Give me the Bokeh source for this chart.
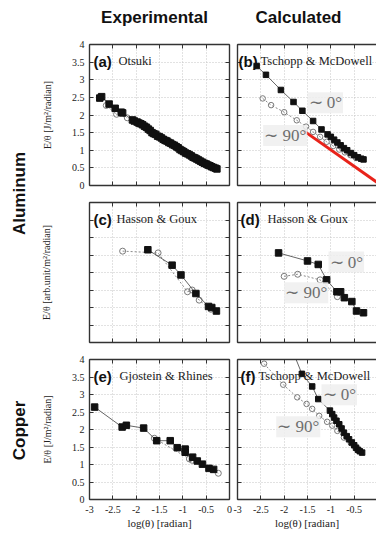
import math
from bokeh.plotting import figure
from bokeh.models import (Label, LinearAxis, FixedTicker, CustomJSTickFormatter,
                          Range1d, Grid)
from bokeh.layouts import row, column
from bokeh.embed import file_html
from bokeh.resources import INLINE

SERIF = "Liberation Serif"
SANS = "Liberation Sans"

XTICKS = [-3, -2.5, -2, -1.5, -1, -0.5, 0]
YTICKS = [0, 0.5, 1, 1.5, 2, 2.5, 3, 3.5, 4]

col_titles = ["Experimental", "Calculated"]
row_titles = ["Aluminum", "Copper"]

# (a) Otsuki - Aluminum experimental
a_sq_x = [-2.78, -2.74, -2.58, -2.45, -2.32, -2.29, -2.08, -2.04, -1.98, -1.94, -1.90,
          -1.86, -1.82, -1.78, -1.74, -1.70, -1.66, -1.62, -1.58, -1.54, -1.50, -1.46,
          -1.42, -1.38, -1.34, -1.30, -1.26, -1.22, -1.18, -1.14, -1.10, -1.06, -1.02,
          -0.98, -0.94, -0.90, -0.86, -0.82, -0.78, -0.74, -0.70, -0.66, -0.62, -0.58,
          -0.54, -0.50, -0.46, -0.42, -0.38, -0.34, -0.30, -0.27]
a_sq_y = [2.48, 2.52, 2.31, 2.19, 2.08, 2.06, 1.86, 1.83, 1.80, 1.77, 1.75,
          1.72, 1.68, 1.65, 1.60, 1.56, 1.50, 1.47, 1.45, 1.40, 1.38, 1.35,
          1.31, 1.28, 1.26, 1.22, 1.20, 1.16, 1.14, 1.10, 1.07, 1.02, 0.99,
          0.96, 0.92, 0.90, 0.87, 0.84, 0.80, 0.78, 0.75, 0.72, 0.69, 0.66,
          0.63, 0.61, 0.58, 0.56, 0.53, 0.51, 0.49, 0.47]
a_ci_x = [-2.64, -2.42, -2.19]
a_ci_y = [2.27, 2.02, 1.92]

# (b) Tschopp & McDowell - Aluminum calculated
b_sq_x = [-2.59, -2.39, -2.07, -1.80, -1.61, -1.38, -1.20, -1.07, -1.00, -0.93, -0.86,
          -0.79, -0.72, -0.65, -0.57, -0.50, -0.42, -0.35, -0.30]
b_sq_y = [3.39, 3.14, 2.71, 2.37, 2.12, 1.83, 1.59, 1.45, 1.38, 1.30, 1.22,
          1.14, 1.06, 1.00, 0.92, 0.86, 0.80, 0.76, 0.74]
b_ci_x = [-2.46, -2.28, -2.00, -1.73, -1.53, -1.38, -1.23, -1.09, -0.95, -0.82, -0.70, -0.58, -0.46]
b_ci_y = [2.47, 2.28, 2.08, 1.85, 1.67, 1.52, 1.38, 1.24, 1.12, 1.02, 0.94, 0.86, 0.78]
b_red_x = [-1.58, 0.0]
b_red_y = [1.55, 0.08]

# (c) Hasson & Goux - Aluminum experimental (arb. units)
c_sq_x = [-1.75, -1.23, -1.04, -0.72, -0.45, -0.38, -0.28]
c_sq_y = [2.65, 2.21, 1.93, 1.40, 1.03, 1.00, 0.90]
c_ci_x = [-2.29, -1.53, -0.90, -0.80, -0.65, -0.40]
c_ci_y = [2.61, 2.56, 1.45, 1.50, 1.21, 0.95]

# (d) Hasson & Goux - Aluminum calculated
d_sq_x = [-2.12, -1.50, -1.27, -1.09, -0.87, -0.79, -0.71, -0.55, -0.45, -0.30]
d_sq_y = [2.56, 2.33, 2.23, 1.79, 1.45, 1.45, 1.28, 1.17, 0.90, 0.85]
d_ci_x = [-2.00, -1.71, -1.23, -0.86]
d_ci_y = [1.89, 1.95, 1.79, 1.31]

# (e) Gjostein & Rhines - Copper experimental
e_sq_x = [-2.89, -2.30, -2.21, -1.84, -1.56, -1.27, -1.12, -0.95, -0.95, -0.79, -0.69,
          -0.58, -0.44, -0.34]
e_sq_y = [2.64, 2.07, 2.12, 2.04, 1.68, 1.68, 1.48, 1.44, 1.35, 1.21, 1.10,
          1.01, 0.89, 0.86]
e_ci_x = [-1.61, -0.86, -0.80, -0.24]
e_ci_y = [1.75, 1.16, 1.12, 0.75]

# (f) Tschopp & McDowell - Copper calculated
f_sq_x = [-1.82, -1.62, -1.40, -1.27, -1.02, -0.97, -0.93, -0.88, -0.82, -0.77, -0.72,
          -0.66, -0.61, -0.55, -0.50, -0.46, -0.42, -0.38, -0.33]
f_sq_y = [4.25, 3.59, 3.23, 2.87, 2.54, 2.44, 2.34, 2.25, 2.15, 2.03, 1.91,
          1.81, 1.72, 1.63, 1.55, 1.48, 1.42, 1.38, 1.34]
f_ci_x = [-2.43, -2.02, -1.72, -1.52, -1.40, -1.25, -1.08, -0.97, -0.86, -0.72, -0.57, -0.43]
f_ci_y = [3.88, 3.28, 2.92, 2.73, 2.59, 2.39, 2.22, 2.11, 1.96, 1.77, 1.61, 1.44]

AXC = "#333333"


def mk_axis(ticks, show, size="10px", standoff=6):
    ax = LinearAxis(ticker=FixedTicker(ticks=ticks))
    ax.major_tick_in = 4
    ax.major_tick_out = 0
    ax.minor_tick_in = 0
    ax.minor_tick_out = 0
    ax.axis_line_color = AXC
    ax.axis_line_width = 1.4
    ax.major_tick_line_color = AXC
    ax.major_tick_line_width = 1
    if show:
        ax.formatter = CustomJSTickFormatter(code="return String(tick);")
        ax.major_label_text_font = SERIF
        ax.major_label_text_font_size = size
        ax.major_label_text_color = "#222222"
        ax.major_label_standoff = standoff
    else:
        ax.formatter = CustomJSTickFormatter(code="return '';")
        ax.major_label_text_font_size = "0px"
        ax.major_label_standoff = 0
    ax.axis_label_text_font = SERIF
    ax.axis_label_text_font_style = "normal"
    ax.axis_label_text_color = "#222222"
    return ax


def panel(width, height, bl, br, bt, bb, x_end, left_col, xlabels, ylabels,
          ylabel=None, ylabel_standoff=16):
    p = figure(width=width, height=height, x_range=Range1d(-3, x_end),
               y_range=Range1d(0, 4), x_axis_type=None, y_axis_type=None,
               output_backend="svg", toolbar_location=None,
               min_border_left=bl, min_border_right=br,
               min_border_top=bt, min_border_bottom=bb)
    p.outline_line_color = None
    p.add_layout(Grid(dimension=0, ticker=FixedTicker(ticks=XTICKS),
                      grid_line_color="#c4c4c4", grid_line_dash="1 2"))
    p.add_layout(Grid(dimension=1, ticker=FixedTicker(ticks=YTICKS),
                      grid_line_color="#c4c4c4", grid_line_dash="1 2"))
    xb = mk_axis(XTICKS, xlabels, "10px", 6)
    if xlabels:
        xb.axis_label = "log(θ) [radian]"
        xb.axis_label_text_font_size = "11px"
        xb.axis_label_standoff = 1
    p.add_layout(xb, "below")
    p.add_layout(mk_axis(XTICKS, False), "above")
    yl = mk_axis(YTICKS, ylabels, "10px", 5)
    if ylabel:
        yl.axis_label = ylabel
        yl.axis_label_text_font_size = "10px"
        yl.axis_label_standoff = ylabel_standoff
    p.add_layout(yl, "left")
    if left_col:
        p.add_layout(mk_axis(YTICKS, False), "right")
    return p


def draw(p, sx, sy, cx, cy, sq_size=6.5, ci_size=6):
    if cx:
        p.line(cx, cy, line_color="#8a8a8a", line_width=1, line_dash="2 2")
        p.scatter(cx, cy, marker="circle", size=ci_size, line_color="#7a7a7a",
                  fill_color=None, line_width=1)
    p.line(sx, sy, line_color="#555555", line_width=0.9)
    p.scatter(sx, sy, marker="square", size=sq_size, line_color="#111111",
              fill_color="#111111")


def tag(p, letter, name, dx_letter, dx_name):
    p.add_layout(Label(x=-3, y=4, x_offset=dx_letter, y_offset=-16.5, text=letter,
                       text_font=SANS, text_font_style="bold", text_font_size="15px",
                       text_color="#111111", text_baseline="alphabetic"))
    p.add_layout(Label(x=-3, y=4, x_offset=dx_name, y_offset=-16.5, text=name,
                       text_font=SERIF, text_font_size="12.5px",
                       text_color="#222222", text_baseline="alphabetic"))


def angle_note(p, txt, x, y):
    p.add_layout(Label(x=x, y=y, text=txt, text_font=SERIF, text_font_size="17px",
                       text_color="#6e6e6e", text_baseline="middle", text_align="left",
                       background_fill_color="#eeeeee", background_fill_alpha=0.85,
                       padding=1))


LW, LBL, LBR = 203, 59, 4
RW, RBL = 143, 4
R_END = -3 + 139 / 46.67

pa = panel(LW, 157, LBL, LBR, 8, 8, 0, True, False, True,
           "E/θ [J/m²/radian]", 16)
pb = panel(RW, 157, RBL, 0, 8, 8, R_END, False, False, False)
pc = panel(LW, 157, LBL, LBR, 9, 8, 0, True, False, False,
           "E/θ [arb.unit/m²/radian]", 38)
pd = panel(RW, 157, RBL, 0, 9, 8, R_END, False, False, False)
pe = panel(LW, 183, LBL, LBR, 9, 34, 0, True, True, True,
           "E/θ [J/m²/radian]", 16)
pf = panel(RW, 183, RBL, 0, 9, 34, R_END, False, True, False)

draw(pa, a_sq_x, a_sq_y, a_ci_x, a_ci_y)
draw(pb, b_sq_x, b_sq_y, b_ci_x, b_ci_y, 5.5, 5.5)
pb.line(b_red_x, b_red_y, line_color="#e8231a", line_width=3)
draw(pc, c_sq_x, c_sq_y, c_ci_x, c_ci_y)
draw(pd, d_sq_x, d_sq_y, d_ci_x, d_ci_y)
draw(pe, e_sq_x, e_sq_y, e_ci_x, e_ci_y)
draw(pf, f_sq_x, f_sq_y, f_ci_x, f_ci_y, 5.5, 5.5)

tag(pa, "(a)", "Otsuki", 4, 29)
tag(pb, "(b)", "Tschopp & McDowell", 1, 23)
tag(pc, "(c)", "Hasson & Goux", 4, 27)
tag(pd, "(d)", "Hasson & Goux", 3, 30)
tag(pe, "(e)", "Gjostein & Rhines", 4, 30)
tag(pf, "(f)", "Tschopp & McDowell", 3, 21)

angle_note(pb, "∼ 0°", -1.50, 2.35)
angle_note(pb, "∼ 90°", -2.45, 1.42)
angle_note(pd, "∼ 0°", -1.05, 2.30)
angle_note(pd, "∼ 90°", -2.00, 1.42)
angle_note(pf, "∼ 0°", -1.20, 2.99)
angle_note(pf, "∼ 90°", -2.17, 2.08)

# header strip with column titles
header = figure(width=376, height=36, x_range=Range1d(0, 376), y_range=Range1d(0, 36),
                x_axis_type=None, y_axis_type=None, output_backend="svg",
                toolbar_location=None, min_border=0)
header.outline_line_color = None
for t, cx in zip(col_titles, [154, 298]):
    header.add_layout(Label(x=cx, y=19.5, text=t, text_font=SANS, text_font_style="bold",
                            text_font_size="17px", text_color="#111111",
                            text_align="center", text_baseline="alphabetic"))

# left strip with row titles
strip = figure(width=30, height=497, x_range=Range1d(0, 30), y_range=Range1d(0, 497),
               x_axis_type=None, y_axis_type=None, output_backend="svg",
               toolbar_location=None, min_border=0)
strip.outline_line_color = None
for t, cy in zip(row_titles, [340, 103]):
    strip.add_layout(Label(x=18.5, y=cy, text=t, text_font=SANS, text_font_style="bold",
                           text_font_size="17px", text_color="#111111",
                           text_align="center", text_baseline="middle",
                           angle=math.pi / 2, angle_units="rad"))

grid = column(row(pa, pb), row(pc, pd), row(pe, pf))
layout = column(header, row(strip, grid))

open("out.html", "w").write(file_html(layout, INLINE))
